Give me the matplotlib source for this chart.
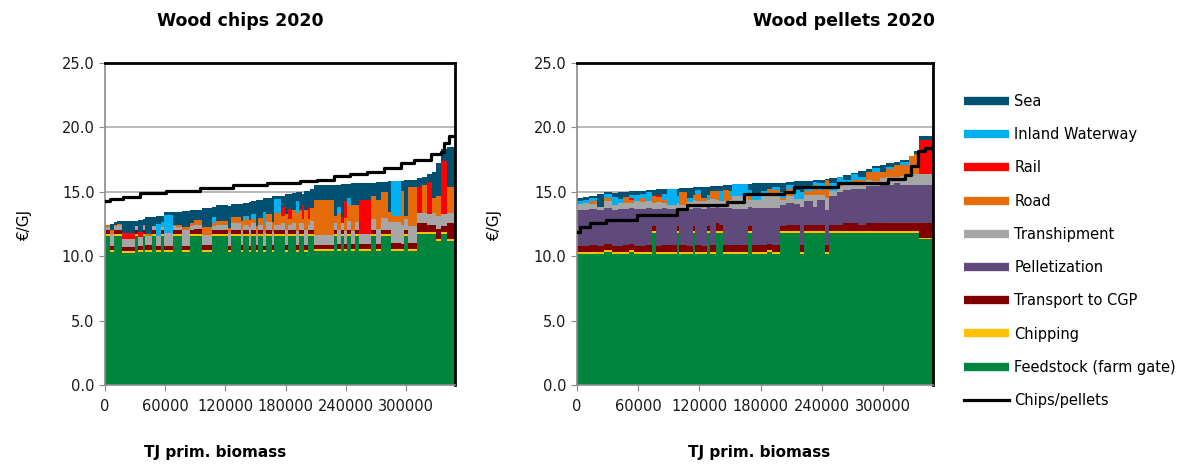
import numpy as np
import matplotlib
matplotlib.use("Agg")
import matplotlib.pyplot as plt
from matplotlib.lines import Line2D

plt.rcParams['font.family'] = ['DejaVu Sans']
plt.rcParams['font.size'] = 10

# ---- wood chips 2020: one entry per supply chain, sorted by cost ----
# widths in TJ primary biomass, costs in EUR/GJ
chips_width = [5000, 4000, 3000, 5000, 13000, 3000, 5000, 2000, 7000, 4000, 5000, 3000, 9000, 3000,
               6000, 8000, 4000, 8000, 10000, 4000, 12000, 3000, 10000, 2000, 6000, 2000, 5000, 2000,
               5000, 3000, 6000, 2000, 6000, 4000, 3000, 4000, 4000, 3000, 3000, 2000, 4000, 2000,
               4000, 20000, 3000, 4000, 3000, 3000, 4000, 4000, 4000, 12000, 5000, 5000, 7000, 3000,
               10000, 3000, 4000, 9000, 5000, 5000, 5000, 4000, 5000, 6000, 8000]
chips_feed = [11.6, 10.3, 11.6, 11.6, 10.25, 11.6, 10.3, 11.6, 10.3, 11.6, 10.3, 11.6, 10.3, 11.6,
              11.6, 10.3, 11.6, 11.6, 10.3, 11.6, 11.6, 10.3, 11.6, 10.3, 11.6, 10.3, 11.6, 10.3,
              11.6, 10.3, 11.6, 10.3, 11.6, 11.6, 10.3, 11.6, 11.6, 10.3, 11.6, 11.6, 10.3, 11.6,
              11.6, 10.4, 11.6, 10.4, 11.6, 10.4, 11.6, 10.4, 11.6, 10.4, 11.6, 10.4, 11.6, 11.6,
              10.4, 10.4, 11.6, 10.4, 11.7, 11.7, 11.7, 11.7, 11.2, 11.7, 11.2]
chips_chip = [0.15] * len(chips_width)
chips_cgp = [0.3, 0.35, 0.3, 0.3, 0.35, 0.3, 0.35, 0.3, 0.4, 0.3, 0.35, 0.3, 0.35, 0.3,
             0.3, 0.35, 0.3, 0.35, 0.4, 0.3, 0.3, 0.35, 0.3, 0.4, 0.3, 0.35, 0.3, 0.4,
             0.3, 0.35, 0.3, 0.4, 0.3, 0.3, 0.4, 0.3, 0.3, 0.4, 0.3, 0.3, 0.4, 0.3,
             0.3, 0.35, 0.3, 0.4, 0.3, 0.4, 0.3, 0.4, 0.3, 0.4, 0.3, 0.4, 0.3, 0.3,
             0.5, 0.4, 0.3, 0.5, 0.7, 0.7, 0.6, 0.6, 0.8, 0.5, 1.2]
chips_tranship = [0.25, 0.9, 0.3, 0.35, 0.6, 0.3, 0.7, 0.3, 0.7, 0.3, 0.8, 0.2, 1.0, 0.3,
                  0.2, 1.2, 0.3, 0.3, 0.8, 0.3, 0.35, 1.0, 0.5, 1.2, 0.4, 1.5, 0.5, 0.9,
                  0.4, 1.0, 0.6, 1.0, 0.4, 0.5, 1.2, 0.4, 0.5, 1.1, 0.5, 0.5, 1.2, 0.4,
                  0.7, 0.75, 0.5, 1.1, 0.5, 1.0, 0.7, 1.0, 0.6, 0.75, 0.8, 1.2, 0.9, 0.6,
                  1.6, 1.5, 0.8, 1.3, 0.8, 0.8, 0.8, 0.9, 1.0, 0.9, 0.8]
chips_road = [0.1, 0.3, 0.1, 0.1, 0.0, 0.0, 0.0, 0.1, 0.2, 0.0, 0.0, 0.1, 0.0, 0.1,
              0.2, 0.3, 0.2, 0.4, 0.6, 0.2, 0.3, 0.4, 0.5, 0.7, 0.4, 0.5, 0.3, 0.6,
              0.5, 0.8, 0.6, 0.8, 0.9, 0.6, 1.2, 0.4, 1.0, 1.4, 1.0, 0.3, 1.5, 0.4,
              1.0, 2.7, 0.6, 1.3, 0.0, 1.0, 1.2, 2.0, 1.3, 0.0, 1.8, 2.2, 2.0, 0.8,
              0.5, 2.6, 0.3, 3.0, 0.0, 2.2, 0.0, 1.2, 1.5, 0.0, 2.0]
chips_rail = [0.0, 0.0, 0.0, 0.0, 0.45, 0.0, 0.4, 0.0, 0.0, 0.0, 0.0, 0.0, 0.0, 0.0,
              0.0, 0.0, 0.0, 0.0, 0.0, 0.0, 0.0, 0.0, 0.0, 0.0, 0.0, 0.0, 0.0, 0.0,
              0.0, 0.0, 0.0, 0.0, 0.0, 0.7, 0.0, 0.8, 0.0, 0.0, 0.0, 1.1, 0.0, 1.0,
              0.0, 0.0, 0.0, 0.0, 0.5, 1.3, 0.0, 0.0, 0.0, 2.7, 0.0, 0.0, 0.0, 0.0,
              0.0, 0.0, 0.0, 0.0, 2.0, 0.0, 2.5, 0.0, 0.0, 4.15, 0.0]
chips_inland = [0.0, 0.0, 0.0, 0.0, 0.0, 0.0, 0.0, 0.0, 0.0, 0.0, 0.9, 0.3, 1.4, 0.0,
                0.0, 0.0, 0.0, 0.0, 0.0, 0.5, 0.0, 0.0, 0.0, 0.0, 0.3, 0.0, 0.4, 0.0,
                0.0, 0.8, 0.0, 0.0, 1.1, 0.0, 0.0, 0.0, 0.0, 0.9, 0.0, 0.0, 0.0, 0.0,
                0.0, 0.0, 0.0, 0.5, 0.0, 0.0, 0.6, 0.0, 0.0, 0.0, 0.0, 0.0, 0.0, 0.0,
                2.65, 0.0, 0.0, 0.0, 0.0, 0.0, 0.0, 0.0, 0.0, 0.0, 0.0]
chips_sea = [0.05, 0.5, 0.2, 0.25, 0.95, 0.4, 0.9, 0.4, 1.3, 0.7, 0.6, 0.5, 0.2, 0.95,
             1.0, 1.2, 1.0, 0.8, 1.5, 0.8, 1.25, 1.7, 1.0, 1.3, 1.0, 1.4, 1.0, 2.0,
             1.45, 1.1, 1.3, 2.0, 0.25, 0.85, 1.6, 1.2, 1.35, 0.7, 1.45, 0.9, 1.55, 1.25,
             1.45, 1.15, 2.4, 1.7, 2.55, 1.35, 1.05, 1.7, 1.7, 1.3, 1.05, 1.4, 0.8, 2.35,
             0.0, 0.8, 2.75, 0.6, 0.7, 0.6, 0.6, 2.0, 2.6, 0.9, 3.15]
# chips/pellets line shown in the chips panel
chips_line_x = [0, 4700, 18000, 34700, 61300, 94700, 128000, 161300, 194700, 211300,
                228000, 244700, 261300, 278000, 294700, 308000, 324700, 334700, 338000, 343000, 349000]
chips_line_y = [14.25, 14.43, 14.6, 14.9, 15.08, 15.28, 15.54, 15.7, 15.8, 15.93,
                16.2, 16.4, 16.5, 16.83, 17.2, 17.5, 17.9, 18.1, 18.76, 19.33, 19.33]

# ---- wood pellets 2020 ----
pel_width = [6000, 6000, 8000, 6000, 8000, 6000, 5000, 6000, 5000, 6000, 6000, 6000, 3000, 6000,
             5000, 10000, 2000, 8000, 6000, 2000, 6000, 5000, 3000, 6000, 3000, 4000, 6000, 3000,
             16000, 4000, 8000, 6000, 5000, 8000, 6000, 8000, 6000, 4000, 8000, 4000, 8000, 4000,
             8000, 6000, 8000, 6000, 8000, 6000, 8000, 6000, 8000, 6000, 8000, 5000, 5000, 14000]
pel_feed = [10.2, 10.2, 10.2, 10.2, 10.3, 10.2, 10.2, 10.2, 10.3, 10.2, 10.2, 10.2, 11.8, 10.2,
            10.2, 10.2, 11.8, 10.2, 10.2, 11.8, 10.2, 10.2, 11.8, 10.2, 11.8, 11.8, 10.2, 10.2,
            10.2, 11.8, 10.2, 10.2, 10.3, 10.2, 11.8, 11.8, 11.8, 10.2, 11.8, 11.8, 11.8, 10.2,
            11.8, 11.8, 11.8, 11.8, 11.8, 11.8, 11.8, 11.8, 11.8, 11.8, 11.8, 11.8, 11.8, 11.3]
pel_chip = [0.15] * len(pel_width)
pel_cgp = [0.45, 0.45, 0.5, 0.45, 0.5, 0.45, 0.45, 0.5, 0.5, 0.45, 0.45, 0.5, 0.4, 0.45,
           0.5, 0.5, 0.4, 0.5, 0.45, 0.4, 0.5, 0.45, 0.4, 0.5, 0.6, 0.5, 0.5, 0.5,
           0.5, 0.4, 0.5, 0.5, 0.5, 0.5, 0.4, 0.5, 0.5, 0.5, 0.5, 0.5, 0.5, 0.5,
           0.5, 0.5, 0.6, 0.6, 0.5, 0.6, 0.6, 0.6, 0.6, 0.6, 0.6, 0.6, 0.6, 1.1]
pel_pellet = [2.8, 2.8, 2.8, 2.8, 2.8, 2.8, 2.85, 2.85, 2.8, 2.85, 2.9, 2.9, 1.3, 2.9,
              2.9, 2.85, 1.3, 2.85, 2.9, 1.4, 2.9, 2.9, 1.5, 2.9, 1.3, 1.3, 2.9, 2.9,
              2.85, 1.5, 2.9, 2.9, 2.8, 2.9, 1.6, 1.7, 1.6, 3.0, 1.8, 1.4, 1.9, 2.7,
              2.2, 2.5, 2.6, 2.7, 2.8, 2.9, 2.9, 3.0, 3.0, 3.1, 3.0, 3.0, 3.0, 3.0]
pel_tranship = [0.45, 0.5, 0.4, 0.2, 0.5, 0.4, 0.5, 0.4, 0.4, 0.6, 0.5, 0.5, 0.5, 0.5,
                0.4, 0.3, 0.5, 0.3, 0.5, 0.6, 0.5, 0.6, 0.5, 0.7, 0.5, 0.5, 0.5, 0.6,
                1.0, 0.5, 0.6, 0.9, 0.9, 1.0, 0.4, 0.5, 0.4, 0.6, 0.5, 0.9, 0.4, 1.0,
                0.4, 0.5, 0.4, 0.3, 0.4, 0.5, 0.4, 0.5, 0.6, 0.5, 0.7, 0.7, 0.8, 0.8]
pel_road = [0.0, 0.0, 0.2, 0.0, 0.3, 0.0, 0.0, 0.5, 0.2, 0.0, 0.3, 0.0, 0.5, 0.4,
            0.2, 0.0, 0.0, 1.0, 0.0, 0.4, 0.6, 0.2, 0.0, 0.6, 0.7, 0.0, 0.9, 0.3,
            0.0, 0.3, 0.0, 0.0, 0.6, 0.4, 0.2, 0.6, 0.0, 0.0, 0.3, 0.8, 0.4, 1.4,
            0.0, 0.3, 0.2, 0.4, 0.3, 0.6, 0.7, 0.5, 0.6, 0.9, 0.8, 1.5, 1.6, 0.0]
pel_rail = [0.0, 0.0, 0.0, 0.0, 0.0, 0.0, 0.0, 0.0, 0.2, 0.0, 0.0, 0.0, 0.0, 0.15,
            0.0, 0.0, 0.0, 0.0, 0.0, 0.0, 0.0, 0.0, 0.0, 0.0, 0.0, 0.0, 0.0, 0.0,
            0.0, 0.0, 0.0, 0.15, 0.0, 0.0, 0.0, 0.0, 0.0, 0.0, 0.0, 0.0, 0.0, 0.0,
            0.0, 0.0, 0.0, 0.0, 0.0, 0.0, 0.0, 0.0, 0.0, 0.0, 0.0, 0.0, 0.0, 2.7]
pel_inland = [0.2, 0.3, 0.3, 0.0, 0.3, 0.6, 0.3, 0.0, 0.2, 0.5, 0.3, 0.7, 0.0, 0.0,
              0.5, 1.2, 0.5, 0.0, 0.3, 0.0, 0.3, 0.0, 0.4, 0.0, 0.0, 0.8, 0.0, 0.4,
              0.9, 0.5, 0.3, 0.3, 0.0, 0.2, 0.4, 0.3, 0.7, 0.5, 0.4, 0.2, 0.5, 0.0,
              0.6, 0.4, 0.2, 0.4, 0.2, 0.0, 0.3, 0.0, 0.2, 0.0, 0.3, 0.0, 0.0, 0.0]
pel_sea = [0.25, 0.2, 0.1, 1.0, 0.1, 0.3, 0.5, 0.4, 0.3, 0.3, 0.3, 0.2, 0.5, 0.45,
           0.4, 0.05, 0.6, 0.3, 0.8, 0.6, 0.2, 0.9, 0.65, 0.4, 0.4, 0.4, 0.4, 0.5,
           0.0, 0.45, 1.0, 0.55, 0.45, 0.35, 0.75, 0.2, 0.65, 0.85, 0.4, 0.15, 0.3, 0.05,
           0.4, 0.0, 0.35, 0.1, 0.45, 0.25, 0.15, 0.55, 0.25, 0.25, 0.15, 0.05, 0.25, 0.25]
pel_line_x = [0, 2600, 12500, 28900, 58500, 97900, 107800, 147200, 163600, 203100, 212900,
              255600, 304900, 321400, 327900, 334500, 341100, 349300]
pel_line_y = [11.9, 12.3, 12.6, 12.8, 13.2, 13.7, 14.0, 14.2, 14.8, 15.0, 15.4,
              15.65, 16.0, 16.3, 17.0, 18.2, 18.4, 18.7]

labels = ["Feedstock (farm gate)", "Chipping", "Transport to CGP", "Pelletization",
          "Transhipment", "Road", "Rail", "Inland Waterway", "Sea"]
colors = ["#00853e", "#ffc000", "#800000", "#604a7b", "#a6a6a6", "#e46c0a",
          "#ff0000", "#00b0f0", "#005072"]


def draw_panel(ax, width, parts, lx, ly):
    width = np.array(width, dtype=float)
    left = np.concatenate([[0], np.cumsum(width)[:-1]])
    bottom = np.zeros(len(width))
    for vals, col in zip(parts, colors):
        vals = np.array(vals, dtype=float)
        ax.bar(left, vals, width, bottom=bottom, align='edge', color=col,
               linewidth=0, antialiased=False, zorder=2)
        bottom += vals
    ax.plot(lx, ly, color='black', linewidth=2.3, drawstyle='steps-post', zorder=3)
    ax.set_xlim(0, 349000)
    ax.set_ylim(0, 25)
    ax.set_yticks(np.arange(0, 26, 5))
    ax.set_yticklabels(["%.1f" % v for v in np.arange(0, 26, 5)])
    ax.set_xticks([0, 60000, 120000, 180000, 240000, 300000])
    ax.set_xticklabels(["0", "60000", "120000", "180000", "240000", "300000"])
    ax.yaxis.grid(True, color='#b3b3b3', linewidth=1.3, zorder=0)
    ax.set_axisbelow(True)
    for s in ['left', 'bottom']:
        ax.spines[s].set_color('#8c8c8c')
        ax.spines[s].set_linewidth(1.2)
    for s in ['top', 'right']:
        ax.spines[s].set_color('black')
        ax.spines[s].set_linewidth(2)
    ax.tick_params(axis='both', direction='out', length=4, color='#8c8c8c',
                   labelsize=10.5, labelcolor='#1a1a1a')
    ax.tick_params(axis='x', pad=6)


fig = plt.figure(figsize=(12.01, 4.66), dpi=100)
ax1 = fig.add_axes([105 / 1201, 1 - 385 / 466, 350 / 1201, 322 / 466])
ax2 = fig.add_axes([577 / 1201, 1 - 385 / 466, 356 / 1201, 322 / 466])

chips_pellet = [0.0] * len(chips_width)
draw_panel(ax1, chips_width,
           [chips_feed, chips_chip, chips_cgp, chips_pellet, chips_tranship, chips_road,
            chips_rail, chips_inland, chips_sea], chips_line_x, chips_line_y)
draw_panel(ax2, pel_width,
           [pel_feed, pel_chip, pel_cgp, pel_pellet, pel_tranship, pel_road,
            pel_rail, pel_inland, pel_sea], pel_line_x, pel_line_y)

fig.text(240 / 1201, 1 - 21 / 466, "Wood chips 2020", ha='center', va='center',
         fontsize=12.5, fontweight='bold')
fig.text(844 / 1201, 1 - 21 / 466, "Wood pellets 2020", ha='center', va='center',
         fontsize=12.5, fontweight='bold')
for xp in [25, 495]:
    fig.text(xp / 1201, 1 - 225 / 466, "€/GJ", rotation=90, ha='center', va='center',
             fontsize=11)
for xp in [215, 759]:
    fig.text(xp / 1201, 1 - 453 / 466, "TJ prim. biomass", ha='center', va='center',
             fontsize=11, fontweight='bold')

handles = [Line2D([], [], color=c, linewidth=6, solid_capstyle='butt')
           for c in colors[::-1]]
handles.append(Line2D([], [], color='black', linewidth=2.3))
leg_labels = labels[::-1] + ["Chips/pellets"]
fig.legend(handles, leg_labels, loc='upper left', bbox_to_anchor=(964 / 1201, 1 - 94 / 466),
           frameon=False, fontsize=10.5, handlelength=3.1, handletextpad=0.35,
           labelspacing=1.25, borderpad=0, borderaxespad=0)

fig.savefig("out.png", dpi=100)
